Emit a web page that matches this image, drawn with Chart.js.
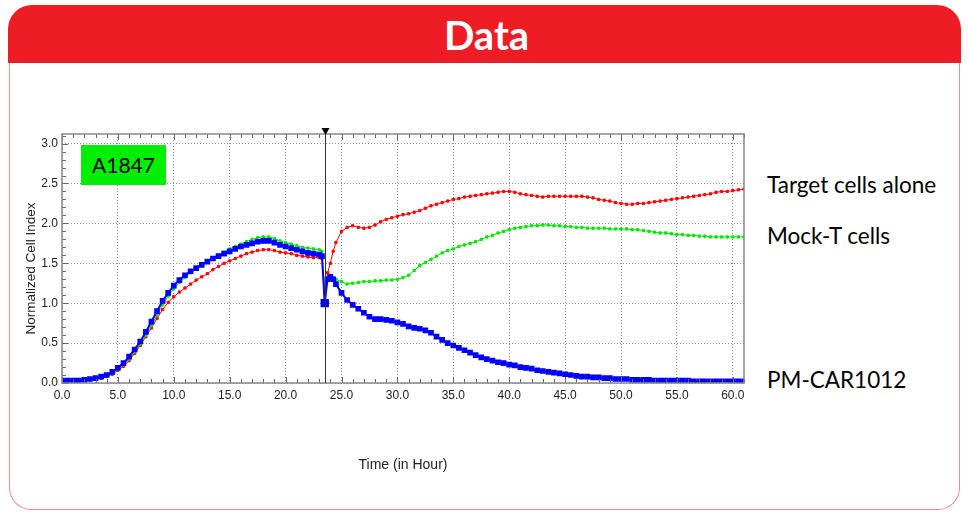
<!DOCTYPE html>
<html>
<head>
<meta charset="utf-8">
<script src="https://cdn.jsdelivr.net/npm/chart.js@4"></script>
<style>
    body { margin: 0; width: 968px; height: 514px; background: #fff; position: relative; overflow: hidden; font-family: "Lato", sans-serif; }
    .header { position: absolute; left: 8px; top: 5px; width: 953px; height: 58px; background: #ee1d25; border-radius: 24px 24px 0 0; }
    .header span { display: block; text-align: center; color: #fff; font: bold 40px "Lato", sans-serif; line-height: 60px; padding-left: 4px; }
    .panel { position: absolute; left: 9px; top: 63px; width: 949px; height: 446px; border: 1.5px solid #f28b8b; border-top: none; border-radius: 0 0 22px 22px; }
    #wrap { position: absolute; left: 10px; top: 110px; }
    .tag { position: absolute; left: 81px; top: 145px; width: 85px; height: 40px; background: #00ee00; color: #000; font: 21px "Lato", sans-serif; line-height: 40px; text-align: center; }
    .lbl { position: absolute; left: 767px; font: 22.5px "Lato", sans-serif; color: #000; line-height: 26px; }
</style>
</head>
<body>
<div class="header"><span>Data</span></div>
<div class="panel"></div>
<div id="wrap"><canvas id="ciChart" width="750" height="370"></canvas></div>
<div class="tag">A1847</div>
<div class="lbl" style="top:172px">Target cells alone</div>
<div class="lbl" style="top:223px">Mock-T cells</div>
<div class="lbl" style="top:367px">PM-CAR1012</div>

<script>
// time points (hours)
const hours = [
    0, 0.5, 1, 1.5, 2, 2.5, 3, 3.5, 4, 4.5, 5, 5.5, 6, 6.5, 7, 7.5, 8, 8.5, 9, 9.5,
    10, 10.5, 11, 11.5, 12, 12.5, 13, 13.5, 14, 14.5, 15, 15.5, 16, 16.5, 17, 17.5,
    18, 18.5, 19, 19.5, 20, 20.5, 21, 21.5, 22, 22.5, 23, 23.25, 23.5, 23.75, 24, 24.25, 24.5,
    25, 25.5, 26, 26.5, 27, 27.5, 28, 28.5, 29, 29.5, 30, 30.5, 31, 31.5, 32, 32.5,
    33, 33.5, 34, 34.5, 35, 35.5, 36, 36.5, 37, 37.5, 38, 38.5, 39, 39.5, 40, 40.5,
    41, 41.5, 42, 42.5, 43, 43.5, 44, 44.5, 45, 45.5, 46, 46.5, 47, 47.5, 48, 48.5,
    49, 49.5, 50, 50.5, 51, 51.5, 52, 52.5, 53, 53.5, 54, 54.5, 55, 55.5, 56, 56.5,
    57, 57.5, 58, 58.5, 59, 59.5, 60, 60.5, 61
];

// Target cells alone (red)
const targetAlone = [
    0.02, 0.02, 0.02, 0.02, 0.03, 0.04, 0.05, 0.06, 0.08, 0.11, 0.16, 0.21, 0.28, 0.37, 0.47, 0.58, 0.69, 0.81, 0.92, 1.01,
    1.08, 1.14, 1.19, 1.24, 1.29, 1.33, 1.37, 1.42, 1.46, 1.50, 1.53, 1.56, 1.59, 1.62, 1.64, 1.66,
    1.67, 1.67, 1.66, 1.64, 1.63, 1.62, 1.60, 1.59, 1.58, 1.57, 1.57, 1.56, 1.12, 1.38, 1.50, 1.65, 1.76,
    1.90, 1.95, 1.97, 1.95, 1.94, 1.95, 1.98, 2.02, 2.05, 2.07, 2.09, 2.11, 2.12, 2.14, 2.16, 2.19,
    2.22, 2.24, 2.26, 2.28, 2.30, 2.31, 2.33, 2.34, 2.35, 2.36, 2.37, 2.38, 2.39, 2.40, 2.40, 2.39,
    2.37, 2.36, 2.35, 2.34, 2.33, 2.34, 2.34, 2.34, 2.34, 2.34, 2.34, 2.34, 2.33, 2.32, 2.30, 2.29,
    2.28, 2.26, 2.25, 2.24, 2.24, 2.25, 2.25, 2.26, 2.27, 2.28, 2.29, 2.30, 2.31, 2.32, 2.33, 2.34,
    2.35, 2.36, 2.37, 2.39, 2.40, 2.40, 2.41, 2.42, 2.43
];

// Mock-T cells (green)
const mockT = [
    0.02, 0.02, 0.02, 0.03, 0.03, 0.04, 0.05, 0.07, 0.09, 0.12, 0.17, 0.23, 0.30, 0.39, 0.49, 0.60, 0.72, 0.85, 0.98, 1.09,
    1.18, 1.26, 1.32, 1.38, 1.43, 1.48, 1.52, 1.56, 1.60, 1.64, 1.68, 1.71, 1.74, 1.77, 1.80, 1.82,
    1.83, 1.83, 1.81, 1.78, 1.76, 1.74, 1.72, 1.70, 1.69, 1.68, 1.67, 1.65, 1.12, 1.32, 1.35, 1.32, 1.30,
    1.27, 1.24, 1.25, 1.26, 1.27, 1.27, 1.28, 1.28, 1.29, 1.29, 1.30, 1.32, 1.35, 1.41, 1.47, 1.51,
    1.55, 1.59, 1.63, 1.66, 1.68, 1.71, 1.73, 1.75, 1.77, 1.80, 1.83, 1.85, 1.88, 1.90, 1.92, 1.94,
    1.95, 1.96, 1.97, 1.97, 1.98, 1.98, 1.97, 1.97, 1.96, 1.96, 1.95, 1.95, 1.94, 1.94, 1.94, 1.94,
    1.93, 1.93, 1.93, 1.93, 1.92, 1.92, 1.91, 1.90, 1.89, 1.88, 1.88, 1.87, 1.86, 1.86, 1.85, 1.85,
    1.84, 1.84, 1.83, 1.83, 1.83, 1.83, 1.83, 1.83, 1.83
];

// PM-CAR1012 (blue)
const pmCar = [
    0.03, 0.03, 0.03, 0.03, 0.04, 0.05, 0.06, 0.08, 0.10, 0.14, 0.19, 0.25, 0.33, 0.42, 0.52, 0.64, 0.77, 0.90, 1.03, 1.13,
    1.22, 1.29, 1.35, 1.40, 1.44, 1.48, 1.52, 1.56, 1.59, 1.62, 1.65, 1.68, 1.71, 1.73, 1.75, 1.77,
    1.78, 1.78, 1.76, 1.73, 1.71, 1.69, 1.67, 1.65, 1.63, 1.62, 1.61, 1.59, 1.00, 1.30, 1.33, 1.30, 1.24,
    1.13, 1.04, 0.98, 0.93, 0.88, 0.83, 0.80, 0.80, 0.79, 0.78, 0.76, 0.74, 0.71, 0.69, 0.68, 0.66,
    0.63, 0.58, 0.54, 0.50, 0.47, 0.44, 0.41, 0.38, 0.35, 0.32, 0.30, 0.28, 0.26, 0.25, 0.23, 0.22,
    0.20, 0.19, 0.18, 0.16, 0.15, 0.14, 0.13, 0.12, 0.11, 0.10, 0.09, 0.08, 0.08, 0.07, 0.07, 0.06,
    0.06, 0.05, 0.05, 0.05, 0.04, 0.04, 0.04, 0.04, 0.03, 0.03, 0.03, 0.03, 0.03, 0.03, 0.03, 0.02,
    0.02, 0.02, 0.02, 0.02, 0.02, 0.02, 0.02, 0.02, 0.02
];

const treatmentTime = 23.5;
const yTitle = 'Normalized Cell Index';

function pairs(ys) {
    return hours.map((h, i) => ({ x: h, y: ys[i] }));
}

// minor ticks, plot frame, y title and the treatment marker line
const frameAndMarks = {
    id: 'frameAndMarks',
    afterDraw(chart) {
        const c = chart.ctx;
        const a = chart.chartArea;
        const xs = chart.scales.x;
        const ys = chart.scales.y;
        c.save();
        c.strokeStyle = '#666';
        c.lineWidth = 1;
        c.beginPath();
        for (let h = 0; h <= 61; h++) {
            const px = Math.round(xs.getPixelForValue(h)) + 0.5;
            const len = h % 5 === 0 ? 6 : 4;
            c.moveTo(px, a.bottom); c.lineTo(px, a.bottom - len);
            c.moveTo(px, a.top); c.lineTo(px, a.top + len);
        }
        for (let k = 0; k <= 31; k++) {
            const py = Math.round(ys.getPixelForValue(k / 10)) + 0.5;
            const len = k % 5 === 0 ? 6 : 4;
            c.moveTo(a.left, py); c.lineTo(a.left + len, py);
        }
        c.stroke();

        c.strokeStyle = '#888';
        c.lineWidth = 1.5;
        c.strokeRect(a.left, a.top, a.right - a.left, a.bottom - a.top);

        const tx = Math.round(xs.getPixelForValue(treatmentTime)) + 0.5;
        c.strokeStyle = '#333';
        c.lineWidth = 1;
        c.beginPath();
        c.moveTo(tx, a.top);
        c.lineTo(tx, a.bottom);
        c.stroke();
        c.fillStyle = '#000';
        c.beginPath();
        c.moveTo(tx - 4, a.top - 6);
        c.lineTo(tx + 4, a.top - 6);
        c.lineTo(tx, a.top + 1);
        c.closePath();
        c.fill();

        // y axis title, a little below the plot middle as in the original
        c.translate(21, (a.top + a.bottom) / 2 + 10);
        c.rotate(-Math.PI / 2);
        c.fillStyle = '#222';
        c.font = '13.5px "Liberation Sans"';
        c.textAlign = 'center';
        c.textBaseline = 'middle';
        c.fillText(yTitle, 0, 0);
        c.restore();
    }
};

const tickFont = { family: 'Liberation Sans', size: 12 };

new Chart(document.getElementById('ciChart').getContext('2d'), {
    type: 'line',
    data: {
        datasets: [
            {
                label: 'PM-CAR1012',
                data: pairs(pmCar),
                borderColor: '#0000ff',
                backgroundColor: '#0000ff',
                borderWidth: 2,
                pointStyle: 'rect',
                pointRadius: ctx => hours[ctx.dataIndex] === treatmentTime ? 4.5 : 2.6,
                order: 0
            },
            {
                label: 'Mock-T cells',
                data: pairs(mockT),
                borderColor: '#00e600',
                backgroundColor: '#00e600',
                borderWidth: 1,
                pointStyle: 'rect',
                pointRadius: 1.6,
                order: 1
            },
            {
                label: 'Target cells alone',
                data: pairs(targetAlone),
                borderColor: '#ff0000',
                backgroundColor: '#ff0000',
                borderWidth: 1,
                pointStyle: 'rect',
                pointRadius: 1.6,
                order: 2
            }
        ]
    },
    options: {
        responsive: false,
        animation: false,
        devicePixelRatio: 1,
        layout: { padding: { top: 24, right: 16, left: 0, bottom: 0 } },
        plugins: { legend: { display: false }, tooltip: { enabled: false } },
        elements: { line: { tension: 0 }, point: { borderWidth: 0 } },
        scales: {
            x: {
                type: 'linear',
                min: 0,
                max: 61,
                afterFit: scale => { scale.height = 97; },
                ticks: {
                    stepSize: 5,
                    includeBounds: false,
                    maxRotation: 0,
                    padding: 5,
                    color: '#222',
                    font: tickFont,
                    callback: v => v.toFixed(1)
                },
                grid: { color: '#8c8c8c', lineWidth: 1, drawTicks: false },
                border: { display: false, dash: [1, 2] },
                title: {
                    display: true,
                    text: 'Time (in Hour)',
                    color: '#222',
                    font: { family: 'Liberation Sans', size: 14 },
                    padding: { top: 0, bottom: 6 }
                }
            },
            y: {
                min: 0,
                max: 3.12,
                afterFit: scale => { scale.width = 52; },
                ticks: {
                    stepSize: 0.5,
                    includeBounds: false,
                    padding: 4,
                    color: '#222',
                    font: tickFont,
                    callback: v => v.toFixed(1)
                },
                grid: { color: '#8c8c8c', lineWidth: 1, drawTicks: false },
                border: { display: false, dash: [1, 2] }
            }
        }
    },
    plugins: [frameAndMarks]
});
</script>
</body>
</html>
